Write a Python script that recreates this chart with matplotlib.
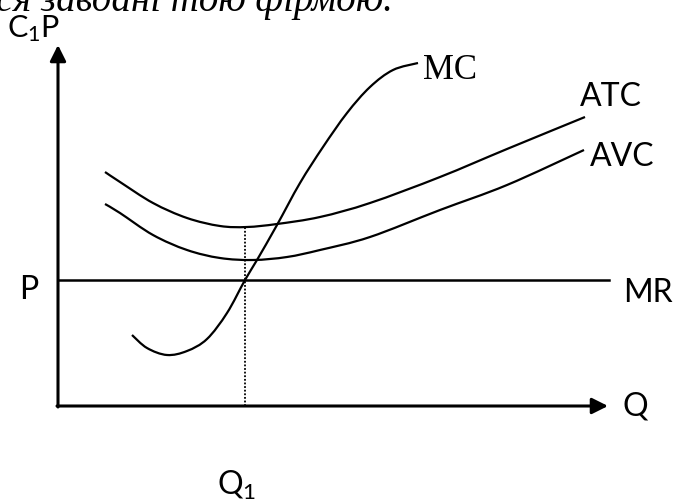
import matplotlib
matplotlib.use('Agg')
import matplotlib.pyplot as plt
from matplotlib.patches import Rectangle, PathPatch
from matplotlib.path import Path

plt.rcParams['mathtext.fontset'] = 'custom'
plt.rcParams['mathtext.rm'] = 'Lato'
plt.rcParams['mathtext.it'] = 'Lato:italic'

# --- криві (Q, витрати) ---
atc_q = [47, 62, 95, 129, 162, 189, 219, 262, 312, 382, 449, 527]
atc_c = [234, 224, 203, 188, 180, 179, 182, 189, 203, 229, 257, 289]

avc_q = [47, 62, 95, 129, 162, 195, 229, 262, 312, 382, 449, 526]
avc_c = [202, 193, 171, 156, 148, 146, 149, 156, 169, 196, 221, 256]

mc_q = [74, 89, 109, 129, 149, 169, 187, 199, 219, 242, 265, 289, 312, 335, 360]
mc_c = [71, 58, 51, 55, 67, 93, 126, 146, 181, 223, 259, 293, 319, 336, 343]

price = 126
mr_q = [0, 551]
q1 = 187
q1_top = 179
q_max = 550
c_max = 361

sans = ['Lato', 'DejaVu Sans']
serif = ['Liberation Serif', 'DejaVu Serif']


def smooth_curve(xs, ys):
    """гладка крива через точки (Catmull-Rom -> Bezier)"""
    pts = list(zip(xs, ys))
    verts = [pts[0]]
    codes = [Path.MOVETO]
    for i in range(len(pts) - 1):
        p0 = pts[i - 1] if i > 0 else pts[i]
        p1 = pts[i]
        p2 = pts[i + 1]
        p3 = pts[i + 2] if i + 2 < len(pts) else pts[i + 1]
        c1 = (p1[0] + (p2[0] - p0[0]) / 6, p1[1] + (p2[1] - p0[1]) / 6)
        c2 = (p2[0] - (p3[0] - p1[0]) / 6, p2[1] - (p3[1] - p1[1]) / 6)
        verts += [c1, c2, p2]
        codes += [Path.CURVE4] * 3
    return PathPatch(Path(verts, codes), facecolor='none', edgecolor='black',
                     lw=1.6, capstyle='butt')


fig = plt.figure(figsize=(6.74, 4.99), dpi=100)
ax = fig.add_axes([0, 0, 1, 1])
ax.set_xlim(-58, 616)
ax.set_ylim(-93, 406)
ax.axis('off')

# осі
ax.annotate('', xy=(0, c_max), xytext=(0, -1),
            arrowprops=dict(arrowstyle='-|>', lw=2.2, color='black',
                            mutation_scale=24, shrinkA=0, shrinkB=0))
ax.annotate('', xy=(q_max, 0), xytext=(-1, 0),
            arrowprops=dict(arrowstyle='-|>', lw=2.2, color='black',
                            mutation_scale=24, shrinkA=0, shrinkB=0))

# криві
ax.add_patch(smooth_curve(atc_q, atc_c))
ax.add_patch(smooth_curve(avc_q, avc_c))
ax.add_patch(smooth_curve(mc_q, mc_c))
ax.plot(mr_q, [price, price], color='black', lw=1.8)
ax.plot([q1, q1], [0, q1_top], color='black', lw=1.3, linestyle=(0, (1, 1)))

# підписи
ax.text(-62, 395, 'ся завдані тою фірмою.', family=serif, style='italic',
        fontsize=28, ha='left', va='baseline')
ax.text(-51, 369, r'C$_\mathrm{1}$P', family=sans, fontsize=22, ha='left', va='baseline')
ax.text(-29, 116, 'P', family=sans, fontsize=23, ha='center', va='center')
ax.text(565, 113, 'MR', family=sans, fontsize=23, ha='left', va='center')
q_txt = ax.text(565, -1, 'Q', family=sans, fontsize=23, ha='left', va='center')
q_txt.set_clip_path(Rectangle((500, -11), 200, 300, transform=ax.transData))
ax.text(159, -89, r'Q$_\mathrm{1}$', family=sans, fontsize=23, ha='left', va='baseline')
ax.text(522, 309, 'ATC', family=sans, fontsize=23, ha='left', va='center')
ax.text(532, 249, 'AVC', family=sans, fontsize=23, ha='left', va='center')
ax.text(365, 336, 'MC', family=serif, fontsize=25, ha='left', va='center')

fig.savefig('out.png', dpi=100)
